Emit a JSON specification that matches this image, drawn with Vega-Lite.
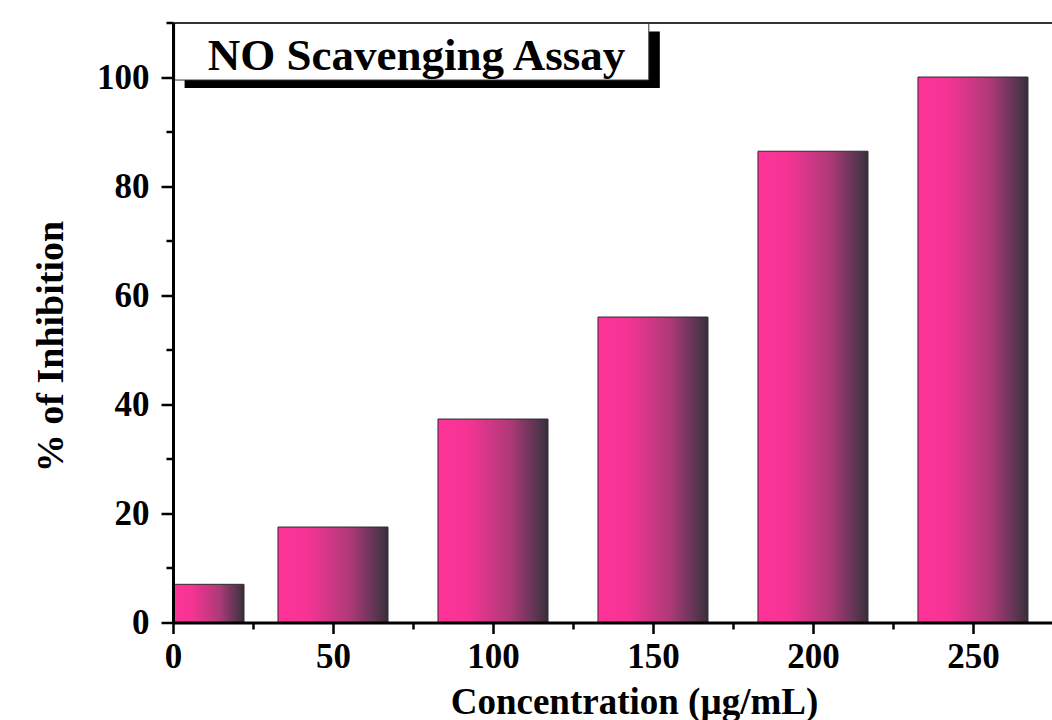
{
  "$schema": "https://vega.github.io/schema/vega-lite/v6.json",
  "width": 879,
  "height": 600,
  "autosize": {"type": "none"},
  "padding": {"left": 173, "top": 22.5, "right": 0, "bottom": 97.5},
  "background": "white",
  "config": {"view": {"stroke": null}, "font": "Liberation Serif"},
  "datasets": {
    "bars": [
      {"conc": 5, "inhibition": 7.0},
      {"conc": 50, "inhibition": 17.5},
      {"conc": 100, "inhibition": 37.3},
      {"conc": 150, "inhibition": 56.0},
      {"conc": 200, "inhibition": 86.4},
      {"conc": 250, "inhibition": 100.0}
    ],
    "box": [
      {"title": "NO Scavenging Assay", "left": 0.5, "right": 148.7, "bottom": 99.45, "top": 110}
    ]
  },
  "layer": [
    {
      "data": {"name": "bars"},
      "mark": {
        "type": "bar",
        "width": 110,
        "clip": true,
        "stroke": "#2f2a30",
        "strokeWidth": 1
      },
      "encoding": {
        "fill": {
          "condition": {
            "test": "datum.conc < 25",
            "value": {
              "gradient": "linear",
              "x1": 0, "y1": 0, "x2": 1, "y2": 0,
              "stops": [
                {"offset": 0, "color": "#ff3399"},
                {"offset": 0.35, "color": "#ff3399"},
                {"offset": 0.53, "color": "#f43493"},
                {"offset": 0.77, "color": "#b03a78"},
                {"offset": 0.935, "color": "#5a3550"},
                {"offset": 1, "color": "#36303a"}
              ]
            }
          },
          "value": {
            "gradient": "linear",
            "x1": 0, "y1": 0, "x2": 1, "y2": 0,
            "stops": [
              {"offset": 0, "color": "#ff3399"},
              {"offset": 0.28, "color": "#f43493"},
              {"offset": 0.65, "color": "#b03a78"},
              {"offset": 0.9, "color": "#5a3550"},
              {"offset": 1, "color": "#36303a"}
            ]
          }
        },
        "x": {
          "field": "conc",
          "type": "quantitative",
          "scale": {"domain": [0, 274.7], "nice": false, "zero": false, "padding": 0},
          "axis": {
            "orient": "bottom",
            "values": [0, 25, 50, 75, 100, 125, 150, 175, 200, 225, 250],
            "labelExpr": "datum.value % 50 === 0 ? datum.label : ''",
            "grid": false,
            "domainColor": "black",
            "domainWidth": 3,
            "tickColor": "black",
            "tickWidth": 2.5,
            "tickSize": {"condition": {"test": "datum.value % 50 === 0", "value": 11}, "value": 6.5},
            "labelFont": "Liberation Serif",
            "labelFontWeight": "bold",
            "labelFontSize": 35,
            "labelColor": "black",
            "labelBaseline": "alphabetic",
            "labelPadding": 33.5,
            "labelFlush": false,
            "labelOverlap": false,
            "title": "Concentration (µg/mL)",
            "titleFont": "Liberation Serif",
            "titleFontWeight": "bold",
            "titleFontSize": 37,
            "titleColor": "black",
            "titleAnchor": null,
            "titleAlign": "center",
            "titleBaseline": "alphabetic",
            "titleX": 461,
            "titleY": 90.5,
            "zindex": 1
          }
        },
        "y": {
          "field": "inhibition",
          "type": "quantitative",
          "scale": {"domain": [0, 110], "nice": false, "padding": 0},
          "axis": {
            "orient": "left",
            "values": [0, 10, 20, 30, 40, 50, 60, 70, 80, 90, 100, 110],
            "labelExpr": "datum.value % 20 === 0 && datum.value <= 100 ? datum.label : ''",
            "grid": false,
            "domainColor": "black",
            "domainWidth": 3,
            "tickColor": "black",
            "tickWidth": 2.5,
            "tickSize": {"condition": {"test": "datum.value % 20 === 0 && datum.value <= 100", "value": 12}, "value": 7},
            "labelFont": "Liberation Serif",
            "labelFontWeight": "bold",
            "labelFontSize": 35,
            "labelColor": "black",
            "labelPadding": 12,
            "labelFlush": false,
            "labelOverlap": false,
            "title": "% of Inhibition",
            "titleFont": "Liberation Serif",
            "titleFontWeight": "bold",
            "titleFontSize": 38,
            "titleColor": "black",
            "titleAngle": -90,
            "titleAnchor": null,
            "titleAlign": "center",
            "titleBaseline": "alphabetic",
            "titleX": -111,
            "titleY": 323.5,
            "zindex": 1
          }
        }
      }
    },
    {
      "data": {"name": "box"},
      "mark": {"type": "rect", "fill": "black", "xOffset": 10, "x2Offset": 11, "yOffset": 9, "y2Offset": 8},
      "encoding": {
        "x": {"field": "left", "type": "quantitative", "axis": null},
        "x2": {"field": "right"},
        "y": {"field": "top", "type": "quantitative", "axis": null},
        "y2": {"field": "bottom"}
      }
    },
    {
      "data": {"name": "box"},
      "mark": {"type": "rect", "fill": "white", "stroke": "#333", "strokeWidth": 1},
      "encoding": {
        "x": {
          "field": "left",
          "type": "quantitative",
          "axis": {"orient": "top", "domain": true, "domainColor": "#333", "domainWidth": 2, "ticks": false, "labels": false, "grid": false, "title": null, "zindex": 1}
        },
        "x2": {"field": "right"},
        "y": {"field": "top", "type": "quantitative", "axis": null},
        "y2": {"field": "bottom"}
      }
    },
    {
      "data": {"name": "box"},
      "mark": {"type": "text", "font": "Liberation Serif", "fontWeight": "bold", "fontSize": 45, "color": "black", "align": "center", "baseline": "alphabetic"},
      "encoding": {
        "text": {"field": "title"},
        "x": {"datum": 76.1, "type": "quantitative", "axis": null},
        "y": {"datum": 101.3, "type": "quantitative", "axis": null}
      }
    }
  ],
  "resolve": {"axis": {"x": "independent", "y": "independent"}}
}
